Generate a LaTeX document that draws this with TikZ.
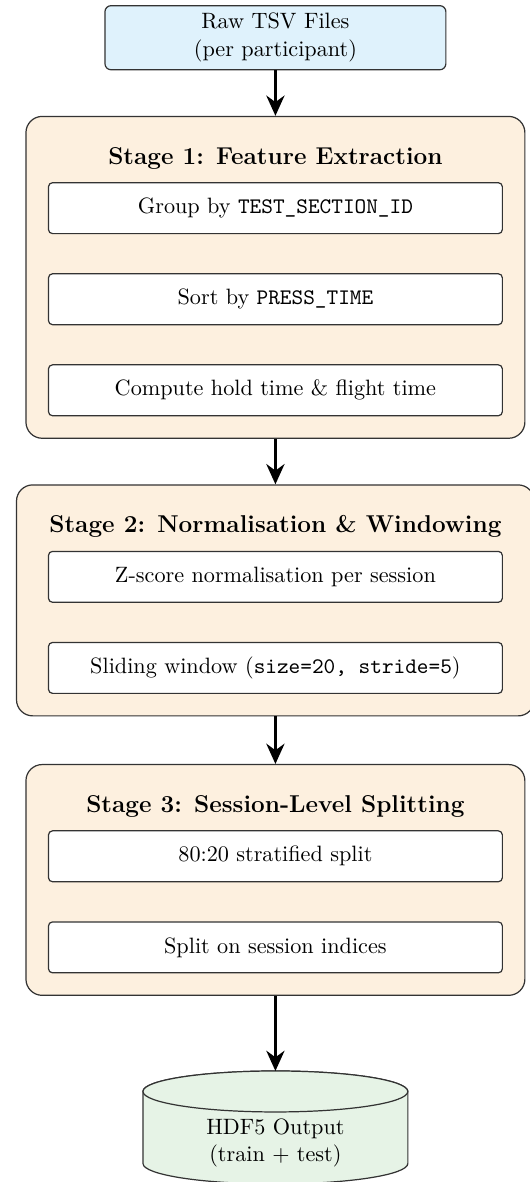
\documentclass[tikz,border=0pt,11pt]{standalone}
\usepackage{amsmath}
\usepackage{tikz}
\usetikzlibrary{arrows.meta,calc,positioning,shapes.geometric,fit,backgrounds}
\definecolor{Ink}{HTML}{333333}
\definecolor{SkyLight}{HTML}{DFF2FC}
\definecolor{SandLight}{HTML}{FDF0DF}
\definecolor{MintLight}{HTML}{E6F3E6}
\tikzset{rawbox/.style={rounded corners=3pt,draw=Ink,fill=SkyLight,line width=.6pt,minimum width=168.1pt,minimum height=31.6pt,align=center},stagebox/.style={rounded corners=8pt,draw=Ink,fill=SandLight,line width=.6pt,inner sep=10.8pt},stagetitle/.style={font=\large\bfseries,inner xsep=5.2pt,inner ysep=4.2pt},stepbox/.style={rounded corners=2pt,draw=Ink,fill=white,line width=.6pt,minimum width=223.8pt,minimum height=25.1pt,align=center},storeline/.style={draw=Ink,fill=MintLight,line width=.6pt},storetext/.style={align=center},flow/.style={-{Stealth[length=10pt,width=9pt]},line width=1.2pt,draw=black}}

\begin{document}
\begin{tikzpicture}[node distance=19.2pt]
      \useasboundingbox (-135.8pt,2.5pt) rectangle (125.5pt,-580.3pt);
      \node[rawbox,anchor=north](raw) at (0,0){Raw TSV Files\\(per participant)};
      % stage 1
      \node[stagetitle,below=33.5pt of raw](t1){Stage 1: Feature Extraction};
      \node[stepbox,below=2pt of t1](group){Group by \texttt{TEST\_SECTION\_ID}};
      \node[stepbox,below=of group](sort){Sort by \texttt{PRESS\_TIME}};
      \node[stepbox,below=of sort](timing){Compute hold time \& flight time};
      \begin{scope}[on background layer]\node[stagebox,fit=(t1)(group)(timing)](stage1){};\end{scope}
      % stage 2
      \node[stagetitle,below=33.5pt of stage1](t2){Stage 2: Normalisation \& Windowing};
      \node[stepbox,below=2pt of t2](zscore){Z-score normalisation per session};
      \node[stepbox,below=of zscore](window){Sliding window (\texttt{size=20, stride=5})};
      \begin{scope}[on background layer]\node[stagebox,fit=(t2)(zscore)(window)](stage2){};\end{scope}
      % stage 3
      \node[stagetitle,below=34.5pt of stage2](t3){Stage 3: Session-Level Splitting};
      \node[stepbox,below=2pt of t3](strat){80:20 stratified split};
      \node[stepbox,below=of strat](split){Split on session indices};
      \begin{scope}[on background layer]\node[stagebox,fit=(t3)(strat)(split)](stage3){};\end{scope}
      % output store
      \coordinate[below=37pt of stage3](hdftop);
      \draw[storeline]($(hdftop)+(-65.3pt,-10.1pt)$)--++(0,-35.5pt)arc[start angle=180,end angle=360,x radius=65.3pt,y radius=10.1pt]--++(0,35.5pt)arc[start angle=0,end angle=180,x radius=65.3pt,y radius=10.1pt]--cycle;
      \draw[storeline]($(hdftop)+(0,-10.1pt)$)ellipse[x radius=65.3pt,y radius=10.1pt];
      \node[storetext](hdf) at ($(hdftop)+(0,-35.5pt)$){HDF5 Output\\(train $+$ test)};
      \draw[flow](raw)--(stage1);\draw[flow](stage1)--(stage2);\draw[flow](stage2)--(stage3);\draw[flow](stage3)--(hdftop);
    \end{tikzpicture}
\end{document}
